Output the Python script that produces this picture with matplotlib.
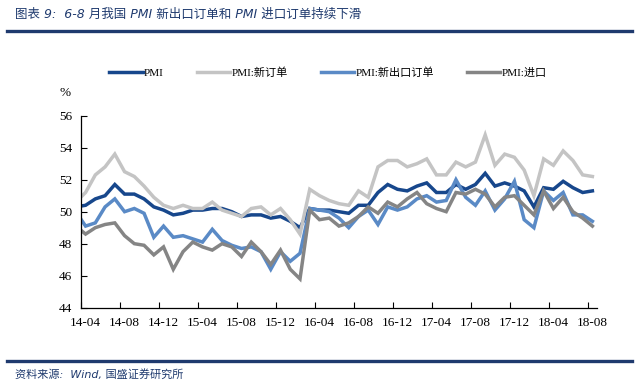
import numpy as np
import matplotlib
matplotlib.use("Agg")
import matplotlib.pyplot as plt
from matplotlib.lines import Line2D

# monthly, 2014-03 .. 2018-08 (2014-03 only shows as the clipped stub at the left edge)
months = ["14-03", "14-04", "14-05", "14-06", "14-07", "14-08", "14-09", "14-10", "14-11", "14-12",
          "15-01", "15-02", "15-03", "15-04", "15-05", "15-06", "15-07", "15-08", "15-09", "15-10", "15-11", "15-12",
          "16-01", "16-02", "16-03", "16-04", "16-05", "16-06", "16-07", "16-08", "16-09", "16-10", "16-11", "16-12",
          "17-01", "17-02", "17-03", "17-04", "17-05", "17-06", "17-07", "17-08", "17-09", "17-10", "17-11", "17-12",
          "18-01", "18-02", "18-03", "18-04", "18-05", "18-06", "18-07", "18-08"]

pmi = [50.3, 50.4, 50.8, 51.0, 51.7, 51.1, 51.1, 50.8, 50.3, 50.1,
       49.8, 49.9, 50.1, 50.1, 50.2, 50.2, 50.0, 49.7, 49.8, 49.8, 49.6, 49.7,
       49.4, 49.0, 50.2, 50.1, 50.1, 50.0, 49.9, 50.4, 50.4, 51.2, 51.7, 51.4,
       51.3, 51.6, 51.8, 51.2, 51.2, 51.7, 51.4, 51.7, 52.4, 51.6, 51.8, 51.6,
       51.3, 50.3, 51.5, 51.4, 51.9, 51.5, 51.2, 51.3]

new_orders = [50.6, 51.2, 52.3, 52.8, 53.6, 52.5, 52.2, 51.6, 50.9, 50.4,
              50.2, 50.4, 50.2, 50.2, 50.6, 50.1, 49.9, 49.7, 50.2, 50.3, 49.8, 50.2,
              49.5, 48.6, 51.4, 51.0, 50.7, 50.5, 50.4, 51.3, 50.9, 52.8, 53.2, 53.2,
              52.8, 53.0, 53.3, 52.3, 52.3, 53.1, 52.8, 53.1, 54.8, 52.9, 53.6, 53.4,
              52.6, 51.0, 53.3, 52.9, 53.8, 53.2, 52.3, 52.2]

new_export = [50.0, 49.1, 49.3, 50.3, 50.8, 50.0, 50.2, 49.9, 48.4, 49.1,
              48.4, 48.5, 48.3, 48.1, 48.9, 48.2, 47.9, 47.7, 47.8, 47.5, 46.4, 47.5,
              46.9, 47.4, 50.2, 50.1, 50.0, 49.6, 49.0, 49.7, 50.1, 49.2, 50.3, 50.1,
              50.3, 50.8, 51.0, 50.6, 50.7, 52.0, 50.9, 50.4, 51.3, 50.1, 50.8, 51.9,
              49.5, 49.0, 51.3, 50.7, 51.2, 49.8, 49.8, 49.4]

imports = [49.1, 48.6, 49.0, 49.2, 49.3, 48.5, 48.0, 47.9, 47.3, 47.8,
           46.4, 47.5, 48.1, 47.8, 47.6, 48.0, 47.8, 47.2, 48.1, 47.5, 46.7, 47.6,
           46.4, 45.8, 50.1, 49.5, 49.6, 49.1, 49.3, 49.7, 50.3, 49.9, 50.6, 50.3,
           50.8, 51.2, 50.5, 50.2, 50.0, 51.2, 51.1, 51.4, 51.1, 50.3, 50.9, 51.0,
           50.4, 49.8, 51.3, 50.2, 50.9, 50.0, 49.6, 49.1]

series_names = ["PMI", "PMI:新订单", "PMI:新出口订单", "PMI:进口"]
colors = ["#17478C", "#C4C4C4", "#5A8AC6", "#858585"]

serif = ["Liberation Serif", "Noto Sans CJK SC"]
navy = "#1F3A6E"

fig = plt.figure(figsize=(6.39, 3.88), dpi=100)
ax = fig.add_axes([0.1263, 0.207, 0.8084, 0.4948])

x = np.arange(len(months)) - 1   # 14-04 is position 0
for vals, name, c in zip([pmi, new_orders, new_export, imports], series_names, colors):
    ax.plot(x, vals, color=c, lw=2.5, label=name, solid_joinstyle="miter")

ax.set_xlim(-0.5, 52.5)
ax.set_ylim(44, 56)
ax.set_yticks(np.arange(44, 57, 2))
ax.set_yticklabels([str(v) for v in range(44, 57, 2)], family=serif, fontsize=9.5)

# ticks sit between categories, labels under every 4th month
ax.set_xticks(np.arange(-0.5, 52, 4))
ax.set_xticklabels([])
lab_pos = np.arange(0, 53, 4)
ax.set_xticks(lab_pos, minor=True)
ax.set_xticklabels([months[p + 1] for p in lab_pos], minor=True, family=serif, fontsize=9.5)
ax.tick_params(axis="x", which="minor", length=0, pad=7)
ax.tick_params(axis="both", which="major", direction="in", length=4, width=0.8, pad=6)

for s in ["top", "right"]:
    ax.spines[s].set_visible(False)
for s in ["left", "bottom"]:
    ax.spines[s].set_linewidth(0.9)

leg = ax.legend(loc="center", bbox_to_anchor=(328 / 639, 1 - 73 / 388), bbox_transform=fig.transFigure,
                ncol=4, frameon=False, handlelength=3.0, handletextpad=0.1, columnspacing=3.0,
                prop={"family": serif, "size": 8})

fig.text(65 / 639, 1 - 93 / 388, "%", family=serif, fontsize=9.5, ha="center", va="center")

# header / footer
fig.text(15 / 639, 1 - 14 / 388, "图表 9:  6-8 月我国 PMI 新出口订单和 PMI 进口订单持续下滑",
         family=["DejaVu Sans", "Noto Sans CJK SC"], style="italic", fontsize=9, color=navy,
         ha="left", va="center")
fig.add_artist(Line2D([7 / 639, 632 / 639], [1 - 31 / 388] * 2, color=navy, lw=2.4))
fig.add_artist(Line2D([7 / 639, 632 / 639], [1 - 361 / 388] * 2, color=navy, lw=2.4))
fig.text(15 / 639, 1 - 374 / 388, "资料来源:  Wind, 国盛证券研究所",
         family=["DejaVu Sans", "Noto Sans CJK SC"], style="italic", fontsize=8, color=navy,
         ha="left", va="center")

fig.savefig("out.png", dpi=100)
